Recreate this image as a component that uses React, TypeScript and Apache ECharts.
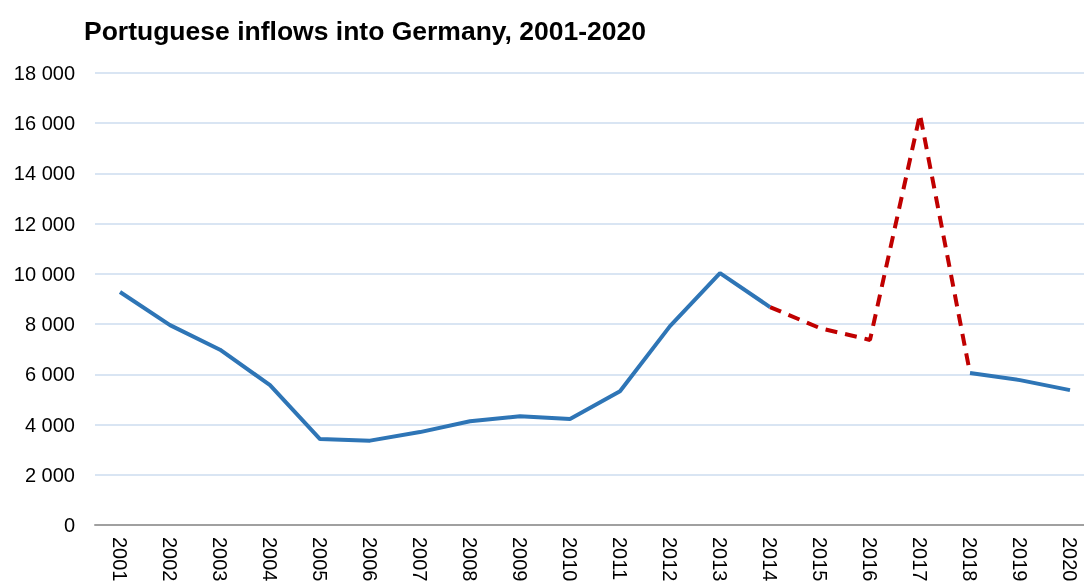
import React, { useEffect, useRef } from "react";
import * as echarts from "echarts";

const years = ["2001","2002","2003","2004","2005","2006","2007","2008","2009","2010","2011","2012","2013","2014","2015","2016","2017","2018","2019","2020"];
const solidValues = [9280, 7960, 6980, 5570, 3420, 3360, 3700, 4130, 4330, 4220, 5330, 7920, 10030, 8680, null, null, null, 6050, 5770, 5370];
const dashedValues = [null, null, null, null, null, null, null, null, null, null, null, null, null, 8680, 7840, 7370, 16350, 6050, null, null];

const fmt = (v: number) => String(v).replace(/\B(?=(\d{3})+(?!\d))/g, " ");

export default function App() {
  const ref = useRef<HTMLDivElement>(null);
  useEffect(() => {
    const chart = echarts.init(ref.current!, undefined, { renderer: "svg" });
    chart.setOption({
      animation: false,
      title: {
        text: "Portuguese inflows into Germany, 2001-2020",
        left: 79,
        top: 12,
        textStyle: { fontFamily: "Liberation Sans", fontWeight: "bold", fontSize: 26.5, color: "#000" },
      },
      grid: { left: 95, right: 5, top: 73, bottom: 61 },
      xAxis: {
        type: "category",
        data: years,
        boundaryGap: true,
        axisLine: { lineStyle: { color: "#A0A0A0", width: 2 } },
        axisTick: { show: false },
        axisLabel: { rotate: -90, margin: 12, fontFamily: "Liberation Sans", fontSize: 20, color: "#000", interval: 0 },
      },
      yAxis: {
        type: "value",
        min: 0,
        max: 18000,
        interval: 2000,
        axisLine: { show: false },
        axisTick: { show: false },
        splitLine: { lineStyle: { color: "#D9E5F3", width: 2 } },
        axisLabel: { margin: 20, fontFamily: "Liberation Sans", fontSize: 20, color: "#000", formatter: (v: number) => fmt(v) },
      },
      series: [
        {
          type: "line",
          data: solidValues,
          symbol: "none",
          connectNulls: false,
          lineStyle: { color: "#2E75B6", width: 4 },
          z: 3,
        },
        {
          type: "line",
          data: dashedValues,
          symbol: "none",
          connectNulls: false,
          lineStyle: { color: "#C00000", width: 4, type: [12, 8] },
          z: 2,
        },
      ],
    });
    return () => chart.dispose();
  }, []);
  return (
    <div style={{ position: "fixed", left: 0, top: 0, width: 1084, height: 586, overflow: "hidden" }}>
      <div ref={ref} style={{ width: 1100, height: 586 }} />
    </div>
  );
}
